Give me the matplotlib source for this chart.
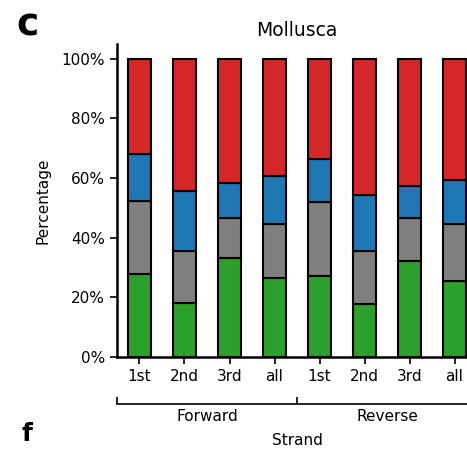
import numpy as np
import matplotlib
matplotlib.use("Agg")
import matplotlib.pyplot as plt
from matplotlib.ticker import PercentFormatter

# codon position composition, forward then reverse strand
positions = ["1st", "2nd", "3rd", "all", "1st", "2nd", "3rd", "all"]
strands = ["Forward", "Reverse"]
green = [27.9, 18.1, 33.2, 26.5, 27.2, 17.8, 32.2, 25.5]
gray = [24.4, 17.5, 13.4, 18.1, 24.8, 17.8, 14.4, 19.1]
blue = [15.8, 20.1, 11.8, 16.1, 14.4, 18.8, 10.8, 14.8]
red = [31.9, 44.3, 41.6, 39.3, 33.6, 45.6, 42.6, 40.6]

colors = ["#2ca02c", "#7f7f7f", "#1f77b4", "#d62728"]

fig = plt.figure(figsize=(4.67, 4.5), dpi=100)
ax = fig.add_axes([0.2505, 0.2067, 0.771, 0.6956])

x = np.arange(len(positions))
bottom = np.zeros(len(positions))
for vals, c in zip([green, gray, blue, red], colors):
    ax.bar(x, vals, bottom=bottom, width=0.5, color=c, edgecolor="black", linewidth=1.5)
    bottom += np.array(vals)

ax.set_xlim(-0.5, 7.5)
ax.set_ylim(0, 105)
ax.set_yticks([0, 20, 40, 60, 80, 100])
ax.yaxis.set_major_formatter(PercentFormatter(decimals=0))
ax.set_xticks(x)
ax.set_xticklabels(positions)
ax.tick_params(labelsize=11, width=1.2, length=5)
ax.set_ylabel("Percentage", fontsize=11, labelpad=8)
ax.set_title("Mollusca", fontsize=13.5, pad=6)
for s in ["top", "right"]:
    ax.spines[s].set_visible(False)
for s in ["left", "bottom"]:
    ax.spines[s].set_linewidth(1.8)

# strand grouping axis under the codon labels
sec = ax.secondary_xaxis(-0.15)
sec.set_xticks([-0.5, 3.5, 7.5])
sec.set_xticklabels(["", "", ""])
sec.tick_params(direction="in", length=5, width=1.2)
sec.set_xticks([1.5, 5.5], minor=True)
sec.set_xticklabels(strands, minor=True)
sec.tick_params(which="minor", length=0, labelsize=11, pad=4)
sec.spines["bottom"].set_linewidth(1.2)
sec.set_xlabel("Strand", fontsize=11, labelpad=6)

fig.text(0.035, 0.921, "c", fontsize=27, fontweight="bold", ha="left", va="baseline")
fig.text(0.045, 0.02, "f", fontsize=18, fontweight="bold", ha="left", va="baseline")

fig.savefig("out.png", dpi=100)
